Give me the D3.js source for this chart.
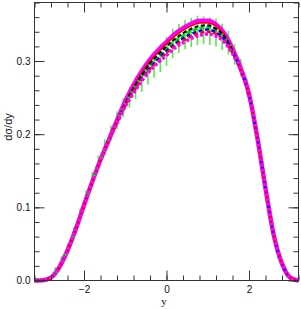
<!DOCTYPE html>
<html>
<head>
<meta charset="utf-8">
<script src="https://cdn.jsdelivr.net/npm/d3@7"></script>
<style>
  body { margin: 0; background: #fff; }
  svg text { font-family: "Liberation Sans", Arial, sans-serif; fill: #111; }
</style>
</head>
<body>
<div id="chart"></div>
<script>
// rapidity grid shared by all curves
const ys = [-3.2, -3.0, -2.8, -2.6, -2.4, -2.2, -2.0, -1.8, -1.6, -1.4, -1.2, -1.0, -0.8, -0.6, -0.4, -0.2,
  0.0, 0.2, 0.4, 0.6, 0.8, 1.0, 1.2, 1.4, 1.6, 1.8, 2.0, 2.2, 2.4, 2.6, 2.8, 3.0, 3.2];

const tail = [0.196, 0.126, 0.062, 0.023, 0.004, 0];
const head = [0, 0.0005, 0.004, 0.018, 0.041, 0.070, 0.103, 0.135, 0.165, 0.192];

const magentaTop = [...head, 0.219, 0.245, 0.267, 0.286, 0.302, 0.315, 0.326, 0.337, 0.345, 0.351, 0.355, 0.355, 0.350, 0.338, 0.317, 0.290, 0.255, ...tail];
const redSolid   = [...head, 0.218, 0.243, 0.265, 0.284, 0.300, 0.312, 0.324, 0.334, 0.342, 0.348, 0.352, 0.352, 0.348, 0.336, 0.316, 0.289, 0.254, ...tail];
const blackDash  = [...head, 0.217, 0.242, 0.263, 0.281, 0.297, 0.309, 0.320, 0.330, 0.338, 0.344, 0.348, 0.349, 0.344, 0.334, 0.314, 0.288, 0.254, ...tail];
const greenDash  = [...head, 0.217, 0.241, 0.261, 0.279, 0.294, 0.306, 0.317, 0.327, 0.335, 0.341, 0.345, 0.346, 0.342, 0.332, 0.313, 0.288, 0.254, ...tail];
const blueDash   = [...head, 0.217, 0.240, 0.259, 0.277, 0.291, 0.303, 0.314, 0.323, 0.331, 0.337, 0.341, 0.343, 0.339, 0.330, 0.312, 0.288, 0.254, ...tail];
const redDash    = [...head, 0.216, 0.239, 0.258, 0.275, 0.289, 0.300, 0.311, 0.321, 0.328, 0.334, 0.338, 0.340, 0.337, 0.328, 0.311, 0.287, 0.254, ...tail];
const magentaDot = [...head, 0.215, 0.238, 0.256, 0.273, 0.287, 0.298, 0.308, 0.318, 0.325, 0.331, 0.335, 0.337, 0.334, 0.326, 0.310, 0.287, 0.254, ...tail];

// green data points with error bars
const dataY = [-2.7, -2.55, -2.4, -2.25, -2.1, -1.95, -1.8, -1.65, -1.5, -1.35, -1.2, -1.05, -0.9, -0.75, -0.6,
  -0.45, -0.3, -0.15, 0.0, 0.15, 0.3, 0.45, 0.6, 0.75, 0.9, 1.05, 1.2, 1.35, 1.5, 1.65, 1.8, 1.95, 2.1, 2.25,
  2.4, 2.55, 2.7];
const dataV = [0.014, 0.028, 0.045, 0.066, 0.090, 0.115, 0.139, 0.162, 0.183, 0.201, 0.219, 0.236, 0.250, 0.263, 0.274,
  0.285, 0.295, 0.304, 0.313, 0.324, 0.331, 0.336, 0.339, 0.342, 0.342, 0.341, 0.339, 0.333, 0.325, 0.309, 0.291, 0.264, 0.226, 0.178,
  0.128, 0.080, 0.035];
const dataErr = [0.004, 0.005, 0.006, 0.007, 0.008, 0.008, 0.009, 0.009, 0.010, 0.011, 0.012, 0.013, 0.014, 0.015, 0.016,
  0.017, 0.018, 0.019, 0.020, 0.020, 0.020, 0.020, 0.020, 0.020, 0.019, 0.019, 0.019, 0.018, 0.016, 0.014, 0.012, 0.011, 0.010, 0.008,
  0.007, 0.006, 0.005];

const yTicks = [0.0, 0.1, 0.2, 0.3];
const xTicks = [-2, 0, 2];

const width = 301;
const height = 309;

const svg = d3.select("#chart").append("svg").attr("width", width).attr("height", height);

const x = d3.scaleLinear().domain([-3.2, 3.2]).range([34.5, 298.5]);
const y = d3.scaleLinear().domain([0, 0.38]).range([280.5, 2.5]);

const frame = "#333";

// green error bars
svg.selectAll(".err")
  .data(dataY)
  .enter()
  .append("line")
  .attr("x1", (d) => x(d))
  .attr("x2", (d) => x(d))
  .attr("y1", (d, i) => y(dataV[i] - dataErr[i]))
  .attr("y2", (d, i) => y(dataV[i] + dataErr[i]))
  .attr("stroke", "#55ee44")
  .attr("stroke-width", 1.6);

const line = d3.line().x((d) => x(d[0])).y((d) => y(d[1])).curve(d3.curveMonotoneX);

const curves = [
  { v: magentaTop, color: "#ff00ff", w: 4.5, dash: null },
  { v: redSolid, color: "#ff0000", w: 1.5, dash: null },
  { v: greenDash, color: "#00dd00", w: 3, dash: "5,2" },
  { v: blackDash, color: "#000000", w: 2, dash: "4,2.5" },
  { v: blueDash, color: "#0000ff", w: 2.5, dash: "4,2.5" },
  { v: redDash, color: "#ff0000", w: 2.5, dash: "4,2.5" },
  { v: magentaDot, color: "#ff00ff", w: 3.5, dash: "3,2" }
];

svg.selectAll(".curve")
  .data(curves)
  .enter()
  .append("path")
  .attr("class", "curve")
  .attr("d", (c) => line(ys.map((t, i) => [t, c.v[i]])))
  .attr("fill", "none")
  .attr("stroke", (c) => c.color)
  .attr("stroke-width", (c) => c.w)
  .attr("stroke-dasharray", (c) => c.dash);

// frame
svg.append("rect")
  .attr("x", x.range()[0]).attr("y", y.range()[1])
  .attr("width", x.range()[1] - x.range()[0])
  .attr("height", y.range()[0] - y.range()[1])
  .attr("fill", "none").attr("stroke", frame).attr("stroke-width", 1);

// ticks on all four sides, pointing in
const xMinor = d3.range(-3.2, 3.21, 0.4).map((d) => +d.toFixed(1));
const yMinor = d3.range(0, 0.381, 0.02).map((d) => +d.toFixed(2));

svg.append("g").attr("transform", `translate(0,${y(0)})`)
  .call(d3.axisBottom(x).tickValues(xMinor).tickSize(-5).tickFormat(""));
svg.append("g").attr("transform", `translate(0,${y(0)})`)
  .call(d3.axisBottom(x).tickValues(xTicks).tickSize(-10).tickPadding(5.5).tickFormat((d) => d < 0 ? "\u2212" + Math.abs(d) : d));
svg.append("g").attr("transform", `translate(0,${y(0.38)})`)
  .call(d3.axisTop(x).tickValues(xMinor).tickSize(-5).tickFormat(""));
svg.append("g").attr("transform", `translate(0,${y(0.38)})`)
  .call(d3.axisTop(x).tickValues(xTicks).tickSize(-10).tickFormat(""));

svg.append("g").attr("transform", `translate(${x(-3.2)},0)`)
  .call(d3.axisLeft(y).tickValues(yMinor).tickSize(-5).tickFormat(""));
svg.append("g").attr("transform", `translate(${x(-3.2)},0)`)
  .call(d3.axisLeft(y).tickValues(yTicks).tickSize(-10).tickPadding(4).tickFormat(d3.format(".1f")));
svg.append("g").attr("transform", `translate(${x(3.2)},0)`)
  .call(d3.axisRight(y).tickValues(yMinor).tickSize(-5).tickFormat(""));
svg.append("g").attr("transform", `translate(${x(3.2)},0)`)
  .call(d3.axisRight(y).tickValues(yTicks).tickSize(-10).tickFormat(""));

svg.selectAll(".domain").remove();
svg.selectAll(".tick line").attr("stroke", frame);
svg.selectAll(".tick text").attr("font-size", 10).attr("fill", "#111");

// axis titles
svg.append("text")
  .attr("x", 164).attr("y", 305)
  .attr("text-anchor", "middle")
  .attr("font-size", 11)
  .style("font-family", "'Liberation Serif', serif")
  .text("y");

svg.append("text")
  .attr("transform", "translate(12,127) rotate(-90)")
  .attr("text-anchor", "middle")
  .attr("font-size", 11)
  .text("d\u03c3/dy");
</script>
</body>
</html>
